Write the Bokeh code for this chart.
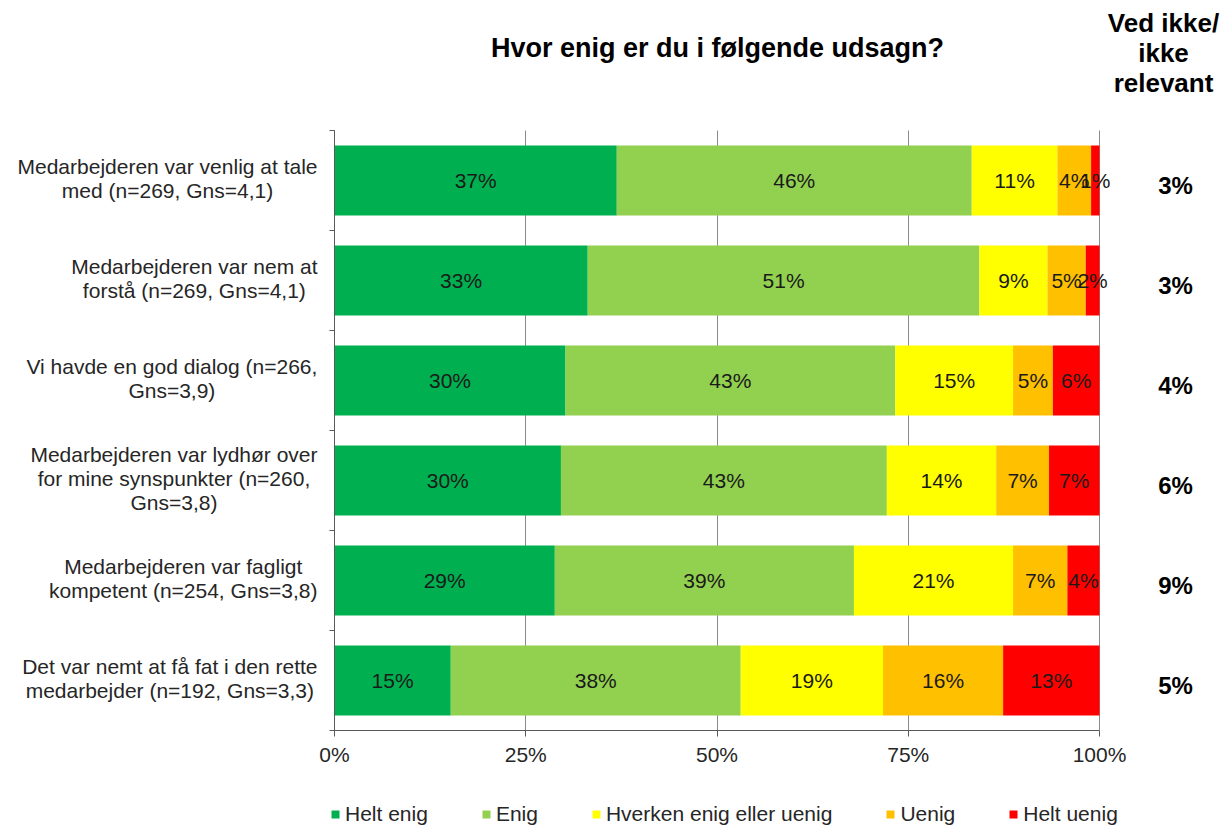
from bokeh.plotting import figure
from bokeh.models import ColumnDataSource, Range1d, FixedTicker
from bokeh.core.properties import value
from bokeh.embed import file_html
from bokeh.resources import INLINE

# ---------------- data ----------------
categories = [
    "Medarbejderen var venlig at tale\nmed (n=269, Gns=4,1)",
    "Medarbejderen var nem at\nforstå (n=269, Gns=4,1)",
    "Vi havde en god dialog (n=266,\nGns=3,9)",
    "Medarbejderen var lydhør over\nfor mine synspunkter (n=260,\nGns=3,8)",
    "Medarbejderen var fagligt\nkompetent (n=254, Gns=3,8)",
    "Det var nemt at få fat i den rette\nmedarbejder (n=192, Gns=3,3)",
]
series_names = ["Helt enig", "Enig", "Hverken enig eller uenig", "Uenig", "Helt uenig"]
helt_enig = [36.9, 33.1, 30.2, 29.6, 28.8, 15.2]
enig = [46.4, 51.2, 43.1, 42.6, 39.1, 37.9]
hverken = [11.2, 8.9, 15.4, 14.3, 20.8, 18.6]
uenig = [4.4, 5.0, 5.2, 6.9, 7.1, 15.7]
helt_uenig = [1.1, 1.8, 6.1, 6.6, 4.2, 12.6]
ved_ikke = [3, 3, 4, 6, 9, 5]
x_ticks = [0, 25, 50, 75, 100]
x_tick_labels = ["0%", "25%", "50%", "75%", "100%"]
title_text = "Hvor enig er du i følgende udsagn?"
side_header = "Ved ikke/\nikke\nrelevant"
colors = ["#00B050", "#92D050", "#FFFF00", "#FFC000", "#FF0000"]

# ---------------- layout (pixel geometry of the plot area) ----------------
FONT = "Liberation Sans"
W, H = 1225, 826
AX_L, AX_R, AX_T, AX_B = 334, 1099, 130, 730   # where 0..100 % and the 6 rows sit
n = len(categories)
sx = (AX_R - AX_L) / 100.0
sy = (AX_B - AX_T) / float(n)


def px_to_x(px):
    return (px - AX_L) / sx


def py_to_y(py):
    return (AX_B - py) / sy


# Arial/Liberation Sans advance widths (1/1000 em) for centring multi-line labels
_AW = {" ": 278, "(": 333, ")": 333, "=": 584, ",": 278, ".": 278, "%": 889, "/": 278,
       "a": 556, "b": 556, "c": 500, "d": 556, "e": 556, "f": 278, "g": 556, "h": 556,
       "i": 222, "j": 222, "k": 500, "l": 222, "m": 833, "n": 556, "o": 556, "p": 556,
       "q": 556, "r": 333, "s": 500, "t": 278, "u": 556, "v": 500, "w": 722, "x": 500,
       "y": 500, "z": 500, "ø": 611, "å": 556, "æ": 889,
       "D": 722, "G": 778, "M": 833, "V": 667, "H": 722, "E": 667, "U": 722}


def text_w(s, size):
    return max(sum(_AW.get(c, 556) for c in line) for line in s.split("\n")) * size / 1000.0


series = [helt_enig, enig, hverken, uenig, helt_uenig]
ys = [n - 0.5 - i for i in range(n)]
data = {"y": ys}
for name, vals in zip(series_names, series):
    data[name] = vals
source = ColumnDataSource(data)

p = figure(width=W, height=H,
           x_range=Range1d(px_to_x(0), px_to_x(W)),
           y_range=Range1d(py_to_y(H), py_to_y(0)),
           output_backend="svg", toolbar_location=None,
           min_border_left=0, min_border_right=0, min_border_top=0, min_border_bottom=0)
p.outline_line_color = None
p.background_fill_color = "white"
p.border_fill_color = "white"

p.hbar_stack(series_names, y="y", height=0.7, color=colors, line_color=None,
             source=source, legend_label=series_names)

# axes (placed at 0 % and at the bottom of the bar area)
AX = "#595959"
p.xaxis.fixed_location = 0
p.xaxis.bounds = (0, 100)
p.xaxis.ticker = FixedTicker(ticks=x_ticks)
p.xaxis.major_label_overrides = {t: l for t, l in zip(x_ticks, x_tick_labels)}
p.xaxis.major_tick_in = 0
p.xaxis.major_tick_out = 6
p.xaxis.minor_tick_line_color = None
p.xaxis.axis_line_color = AX
p.xaxis.major_tick_line_color = AX
p.xaxis.major_label_text_font = FONT
p.xaxis.major_label_text_font_size = "21px"
p.xaxis.major_label_text_color = "#262626"
p.xaxis.major_label_standoff = 6

p.yaxis.fixed_location = 0
p.yaxis.bounds = (0, n)
p.yaxis.ticker = FixedTicker(ticks=list(range(n + 1)))
p.yaxis.major_label_text_color = None
p.yaxis.major_tick_in = 0
p.yaxis.major_tick_out = 5
p.yaxis.minor_tick_line_color = None
p.yaxis.axis_line_color = AX
p.yaxis.major_tick_line_color = AX

# vertical gridlines only over the bar area
p.ygrid.grid_line_color = None
try:
    p.xgrid.ticker = FixedTicker(ticks=x_ticks)
    p.xgrid.bounds = (0, 100)
    p.xgrid.cross_bounds = (0, n)
    p.xgrid.grid_line_color = "#8c8c8c"
    p.xgrid.level = "underlay"
except Exception:
    p.xgrid.grid_line_color = None
    p.segment(x0=x_ticks[1:], y0=[0] * (len(x_ticks) - 1), x1=x_ticks[1:],
              y1=[n] * (len(x_ticks) - 1), line_color="#8c8c8c", line_width=1, level="underlay")

# segment labels
lx, ly, lt = [], [], []
for i in range(n):
    left = 0.0
    for vals in series:
        v = vals[i]
        lx.append(left + v / 2.0)
        ly.append(ys[i])
        lt.append("%d%%" % int(v + 0.5))
        left += v
p.text(x=lx, y=ly, text=lt, text_font=value(FONT), text_font_size=value("21px"),
       text_color="#1a1a1a", text_align="center", text_baseline="middle")

# category labels (block right edge near the axis, lines centred)
cx = [px_to_x(AX_L - 17 - text_w(c, 21) / 2.0) for c in categories]
p.text(x=cx, y=[y + 0.02 for y in ys], text=categories, text_font=value(FONT),
       text_font_size=value("21px"), text_color="#262626", text_align="center",
       text_baseline="middle", text_line_height=1.05)

# "Ved ikke" column
p.text(x=[px_to_x(1175)] * n, y=[y - 0.05 for y in ys], text=["%d%%" % v for v in ved_ikke],
       text_font=value(FONT), text_font_size=value("24px"), text_font_style="bold",
       text_color="#000000", text_align="center", text_baseline="middle")

p.text(x=[px_to_x(1163)], y=[py_to_y(52)], text=[side_header],
       text_font=value(FONT), text_font_size=value("26px"), text_font_style="bold",
       text_color="#000000", text_align="center", text_baseline="middle",
       text_line_height=1.0)

p.text(x=[px_to_x(717)], y=[py_to_y(47)], text=[title_text],
       text_font=value(FONT), text_font_size=value("27px"), text_font_style="bold",
       text_color="#000000", text_align="center", text_baseline="middle")

# legend
lg = p.legend[0]
lg.orientation = "horizontal"
lg.location = (330, 0)
lg.background_fill_alpha = 0
lg.border_line_color = None
lg.padding = 0
lg.margin = 0
lg.spacing = 53
lg.glyph_width = 10
lg.glyph_height = 10
lg.label_standoff = 5
lg.label_height = 22
lg.label_text_font = FONT
lg.label_text_font_size = "21px"
lg.label_text_color = "#262626"
lg.label_text_baseline = "middle"

open("out.html", "w").write(file_html(p, INLINE))
